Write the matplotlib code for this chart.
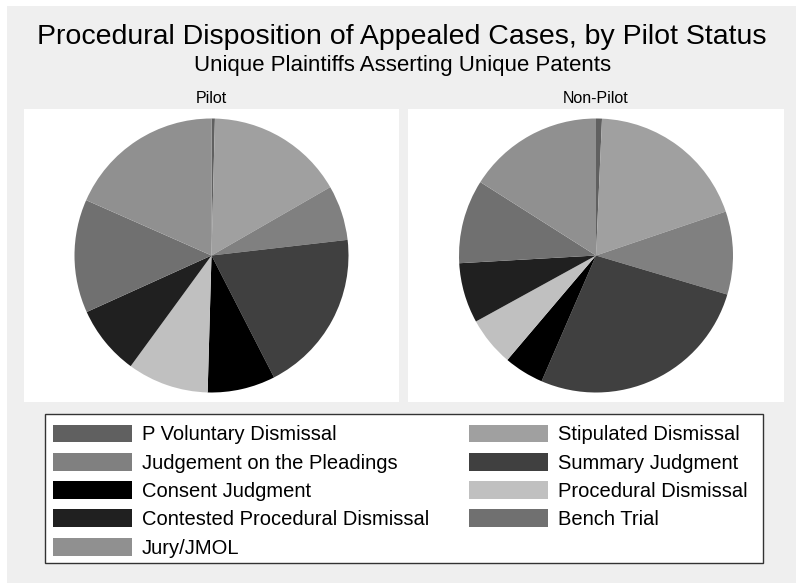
import matplotlib
matplotlib.use('Agg')
import matplotlib.pyplot as plt
from matplotlib.patches import Rectangle

categories = ["P Voluntary Dismissal", "Stipulated Dismissal", "Judgement on the Pleadings",
              "Summary Judgment", "Consent Judgment", "Procedural Dismissal",
              "Contested Procedural Dismissal", "Bench Trial", "Jury/JMOL"]
pilot = [0.4, 16.3, 6.5, 19.3, 8.0, 9.6, 8.2, 13.4, 18.4]
nonpilot = [0.7, 19.1, 9.8, 26.9, 4.7, 5.8, 7.1, 9.9, 16.0]
panel_titles = ["Pilot", "Non-Pilot"]
colors = ['#606060', '#a0a0a0', '#808080', '#404040', '#000000',
          '#c0c0c0', '#202020', '#707070', '#909090']

plt.rcParams['font.family'] = ['Liberation Sans', 'DejaVu Sans']

W, H = 796, 583
fig = plt.figure(figsize=(W / 100, H / 100), dpi=100)
fig.patch.set_facecolor('white')

def fx(x):
    return x / W

def fy(y):
    return 1 - y / H

# gray background region
fig.patches.append(Rectangle((fx(7), 0), (W - 7) / W, (H - 6) / H, transform=fig.transFigure,
                             facecolor='#efefef', edgecolor='none', zorder=-5))

R = 137.0
panels = [(24, 109, 399, 402), (408, 109, 784, 402)]
data = [pilot, nonpilot]
wedges_first = None
for (x0, y0, x1, y1), vals, ttl in zip(panels, data, panel_titles):
    ax = fig.add_axes([fx(x0), fy(y1), (x1 - x0) / W, (y1 - y0) / H])
    wedges, _ = ax.pie(vals, colors=colors, startangle=90, counterclock=False,
                       radius=1.0, wedgeprops=dict(linewidth=0, antialiased=True))
    if wedges_first is None:
        wedges_first = wedges
    ax.set_aspect('auto')
    w2 = (x1 - x0) / 2 / R
    h2 = (y1 - y0) / 2 / R
    ax.set_xlim(-w2, w2)
    ax.set_ylim(-h2, h2)
    ax.set_frame_on(True)
    for s in ax.spines.values():
        s.set_visible(False)
    ax.set_facecolor('white')
    ax.set_xticks([])
    ax.set_yticks([])
    fig.text(fx((x0 + x1) / 2), fy(103), ttl, ha='center', va='baseline', fontsize=11.5)

fig.text(fx(401.5), fy(44), "Procedural Disposition of Appealed Cases, by Pilot Status",
         ha='center', va='baseline', fontsize=20.5)
fig.text(fx(403), fy(71), "Unique Plaintiffs Asserting Unique Patents",
         ha='center', va='baseline', fontsize=16)

# legend box
fig.patches.append(Rectangle((fx(45), fy(563)), (763 - 45) / W, (563 - 414) / H,
                             transform=fig.transFigure, facecolor='white',
                             edgecolor='#333333', linewidth=1.0, zorder=-1))

order = [0, 2, 4, 6, 8, 1, 3, 5, 7]
handles = [wedges_first[i] for i in order]
labels = [categories[i] for i in order]
fs = 14.5
fspx = fs * 100 / 72
leg = fig.legend(handles, labels, ncol=2, loc='upper left',
                 bbox_to_anchor=(fx(53), fy(424.5)), bbox_transform=fig.transFigure,
                 frameon=False, borderaxespad=0, borderpad=0, fontsize=fs,
                 handlelength=79 / fspx, handleheight=20 / fspx,
                 handletextpad=10 / fspx, labelspacing=0.42, columnspacing=1.99)

fig.savefig('out.png', dpi=100)
